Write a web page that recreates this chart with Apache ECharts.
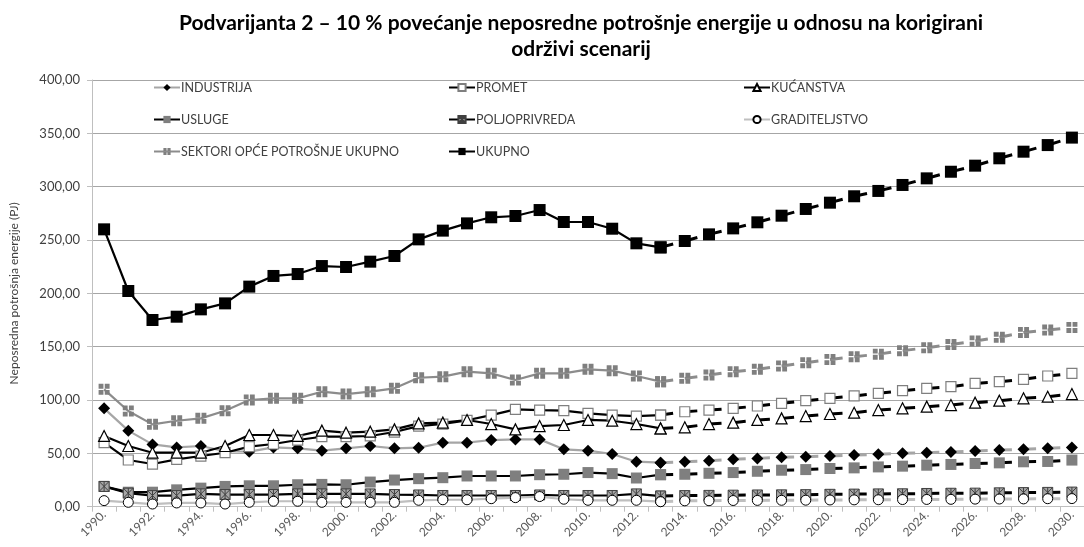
<!DOCTYPE html>
<html>
<head>
<meta charset="utf-8">
<script src="https://cdn.jsdelivr.net/npm/echarts@6/dist/echarts.min.js"></script>
<style>
  html, body { margin: 0; padding: 0; background: #ffffff; }
  #chart { width: 1084px; height: 547px; }
</style>
</head>
<body>
<div id="chart"></div>
<script>
// Years 1990.–2030.; values after 2013. are projections (drawn dashed)
const years = ['1990.','1991.','1992.','1993.','1994.','1995.','1996.','1997.','1998.','1999.',
  '2000.','2001.','2002.','2003.','2004.','2005.','2006.','2007.','2008.','2009.',
  '2010.','2011.','2012.','2013.','2014.','2015.','2016.','2017.','2018.','2019.',
  '2020.','2021.','2022.','2023.','2024.','2025.','2026.','2027.','2028.','2029.','2030.'];
const lastActualYear = '2013.';

// Neposredna potrošnja energije po sektorima (PJ)
const industrija = [92.2, 71.3, 58.4, 55.6, 56.9, 52.0, 51.6, 55.6, 54.7, 52.5, 54.7, 56.9, 54.7,
  55.3, 60.0, 60.0, 62.5, 63.1, 63.1, 53.8, 52.5, 49.4, 42.2, 41.3, 42.2, 43.1,
  44.4, 45.3, 46.3, 46.9, 47.5, 48.4, 49.1, 50.0, 50.6, 51.3, 52.2, 53.1, 53.8, 54.7, 55.6];
const promet = [60.0, 43.8, 40.0, 44.4, 47.5, 50.6, 56.3, 58.8, 62.5, 65.6, 65.6, 66.3, 70.0,
  75.5, 77.5, 81.0, 85.9, 91.3, 90.6, 90.0, 87.5, 85.9, 85.0, 85.9, 89.0, 90.6,
  92.2, 94.4, 96.9, 99.4, 101.6, 103.8, 106.3, 108.8, 110.9, 112.5, 115.6, 117.2, 119.4, 122.5, 125.0];
const kucanstva = [66.3, 56.9, 50.6, 50.6, 50.6, 56.9, 67.2, 67.2, 66.3, 71.3, 69.4, 70.3, 72.5,
  78.1, 78.8, 81.3, 77.5, 72.5, 75.6, 76.6, 81.3, 80.6, 77.5, 73.4, 74.4, 77.5,
  78.8, 81.3, 82.8, 85.0, 86.9, 88.1, 90.6, 92.2, 93.8, 95.3, 97.5, 99.4, 101.6, 103.1, 105.6];
const usluge = [19.0, 13.6, 13.6, 15.8, 17.4, 19.0, 19.6, 19.6, 20.6, 20.9, 20.6, 23.1, 25.0,
  26.3, 27.2, 28.8, 28.8, 28.8, 30.0, 30.4, 32.0, 31.0, 26.9, 30.0, 30.4, 31.3,
  32.0, 33.2, 34.2, 34.8, 35.8, 36.4, 37.3, 38.0, 38.9, 39.6, 40.5, 41.1, 42.1, 42.4, 43.7];
const poljoprivreda = [19.0, 12.7, 10.4, 10.4, 12.0, 11.4, 11.4, 11.4, 12.0, 12.0, 12.0, 12.0, 11.4,
  11.0, 10.5, 10.5, 10.5, 10.5, 11.0, 10.5, 10.5, 10.5, 12.0, 10.0, 10.4, 10.6,
  10.8, 11.0, 11.1, 11.3, 11.6, 11.8, 12.0, 12.1, 12.4, 12.6, 12.7, 13.0, 13.2, 13.4, 13.7];
const graditeljstvo = [5.7, 4.1, 2.5, 3.5, 3.5, 2.5, 4.1, 5.1, 5.1, 4.1, 4.1, 4.1, 4.1,
  6.0, 6.5, 6.5, 7.5, 8.5, 9.5, 7.0, 6.0, 6.0, 6.0, 4.7, 5.5, 5.6,
  5.8, 5.9, 6.0, 6.1, 6.3, 6.4, 6.5, 6.7, 6.8, 6.9, 7.1, 7.2, 7.3, 7.5, 7.6];
const sektoriOpce = [110.0, 89.7, 77.2, 80.6, 82.8, 90.0, 100.0, 101.6, 101.6, 107.8, 105.6, 107.8, 111.0,
  120.9, 121.9, 126.6, 125.0, 118.8, 125.0, 125.0, 128.8, 127.5, 122.5, 117.2, 120.3, 123.4,
  126.6, 128.8, 131.9, 135.0, 138.0, 140.6, 143.0, 146.3, 149.0, 152.0, 155.3, 158.8, 163.4, 165.6, 168.1];
const ukupno = [260.0, 202.2, 175.0, 178.1, 185.0, 190.6, 206.3, 216.3, 218.1, 225.6, 224.7, 229.7, 235.0,
  250.6, 258.8, 265.6, 271.3, 272.5, 278.1, 266.9, 266.9, 260.6, 246.9, 243.1,
  249.1, 255.3, 260.9, 266.6, 272.8, 279.1, 285.0, 291.0, 296.0, 301.6, 307.8, 314.0, 319.7, 326.6, 332.8, 339.0, 346.0];

const yTicks = { min: 0, max: 400, step: 50 };

// Marker shapes
const asteriskPath = 'path://M0,0h10v10h-10zM0,0L10,10M10,0L0,10M5,0L5,10';
const windowPath = 'path://M0,0h4.4v4.4h-4.4zM5.6,0h4.4v4.4h-4.4zM0,5.6h4.4v4.4h-4.4zM5.6,5.6h4.4v4.4h-4.4z';

const sectors = [
  { name: 'INDUSTRIJA', data: industrija, line: '#a6a6a6', symbol: 'diamond', size: 12, fill: '#000000', border: '#000000', bw: 0 },
  { name: 'PROMET', data: promet, line: '#000000', symbol: 'rect', size: 10, fill: '#ffffff', border: '#7f7f7f', bw: 1.2 },
  { name: 'KUĆANSTVA', data: kucanstva, line: '#000000', symbol: 'triangle', size: 11, fill: '#ffffff', border: '#000000', bw: 1.2 },
  { name: 'USLUGE', data: usluge, line: '#000000', symbol: 'rect', size: 11, fill: '#7f7f7f', border: '#7f7f7f', bw: 0 },
  { name: 'POLJOPRIVREDA', data: poljoprivreda, line: '#000000', symbol: asteriskPath, size: 10, fill: '#a6a6a6', border: '#404040', bw: 1 },
  { name: 'GRADITELJSTVO', data: graditeljstvo, line: '#bfbfbf', symbol: 'circle', size: 10, fill: '#ffffff', border: '#000000', bw: 1 },
  { name: 'SEKTORI OPĆE POTROŠNJE UKUPNO', data: sektoriOpce, line: '#8c8c8c', symbol: windowPath, size: 11, fill: '#7f7f7f', border: '#7f7f7f', bw: 0 },
  { name: 'UKUPNO', data: ukupno, line: '#000000', symbol: 'rect', size: 12, fill: '#000000', border: '#000000', bw: 0 }
];

const split = years.indexOf(lastActualYear);
const series = [];
const projIdx = [];
sectors.forEach(function (s) {
  const hist = s.data.map(function (v, i) { return i <= split ? v : '-'; });
  const proj = s.data.map(function (v, i) { return i >= split ? v : '-'; });
  const common = {
    type: 'line',
    name: s.name,
    symbol: s.symbol,
    symbolSize: s.size,
    showAllSymbol: true,
    itemStyle: { color: s.fill, borderColor: s.border, borderWidth: s.bw, opacity: 1 },
    emphasis: { disabled: true },
    animation: false
  };
  series.push(Object.assign({}, common, {
    id: s.name + '-hist',
    data: hist,
    lineStyle: { color: s.line, width: 2.2 }
  }));
  projIdx.push(series.length);
  series.push(Object.assign({}, common, {
    id: s.name + '-proj',
    data: proj,
    lineStyle: { color: s.line, width: 3, type: [12, 12], cap: 'butt' }
  }));
});

const fontFamily = 'Lato, "Liberation Sans", sans-serif';
function legendCol(left, names) {
  return {
    orient: 'vertical',
    left: left,
    top: 75,
    itemWidth: 26,
    itemHeight: 9,
    itemGap: 17,
    data: names,
    selectedMode: false,
    textStyle: { fontFamily: fontFamily, fontSize: 12.5, color: '#404040', lineHeight: 15, padding: [0, 0, 0, -4] }
  };
}

const option = {
  backgroundColor: '#ffffff',
  animation: false,
  title: {
    text: 'Podvarijanta 2 – 10 % povećanje neposredne potrošnje energije u odnosu na korigirani\nodrživi scenarij',
    left: 576,
    textAlign: 'center',
    top: 5,
    textStyle: { fontFamily: fontFamily, fontSize: 21, fontWeight: 'bold', color: '#000000', lineHeight: 26 }
  },
  legend: [
    legendCol(148, ['INDUSTRIJA', 'USLUGE', 'SEKTORI OPĆE POTROŠNJE UKUPNO']),
    legendCol(443, ['PROMET', 'POLJOPRIVREDA', 'UKUPNO']),
    legendCol(738, ['KUĆANSTVA', 'GRADITELJSTVO'])
  ],
  grid: { left: 92, right: -6, top: 80, bottom: 40.3, containLabel: false },
  xAxis: {
    type: 'category',
    data: years,
    boundaryGap: true,
    axisLine: { lineStyle: { color: '#bfbfbf', width: 1 } },
    axisTick: { show: true, interval: 0, length: 5, lineStyle: { color: '#bfbfbf' } },
    axisLabel: { interval: 1, rotate: 45, margin: 6, fontFamily: fontFamily, fontSize: 12, color: '#595959', padding: [0, 0, 0, 0] },
    splitLine: { show: false }
  },
  yAxis: {
    type: 'value',
    min: yTicks.min,
    max: yTicks.max,
    interval: yTicks.step,
    name: 'Neposredna potrošnja energije (PJ)',
    nameLocation: 'middle',
    nameGap: 72,
    nameTextStyle: { fontFamily: fontFamily, fontSize: 12, color: '#404040' },
    axisLine: { show: true, lineStyle: { color: '#bfbfbf', width: 1 } },
    axisTick: { show: true, length: 5, lineStyle: { color: '#bfbfbf' } },
    axisLabel: {
      margin: 12, fontFamily: fontFamily, fontSize: 13, color: '#404040',
      formatter: function (v) { return v.toFixed(2).replace('.', ','); }
    },
    splitLine: { show: true, lineStyle: { color: '#a6a6a6', width: 1 } }
  },
  series: series
};

const chart = echarts.init(document.getElementById('chart'), null, { renderer: 'canvas' });
chart.setOption(option);

// Fit the dash period of each projected line to its own segment length,
// so every dash starts at a marker.
const dashUpdates = projIdx.map(function (si) {
  const vals = sectors[(si - 1) / 2].data;
  let total = 0, n = 0;
  for (let k = split; k < years.length - 1; k++) {
    const p1 = chart.convertToPixel({ seriesIndex: si }, [k, vals[k]]);
    const p2 = chart.convertToPixel({ seriesIndex: si }, [k + 1, vals[k + 1]]);
    total += Math.hypot(p2[0] - p1[0], p2[1] - p1[1]);
    n++;
  }
  const L = total / n;
  return { id: series[si].id, lineStyle: { type: [L * 0.52, L * 0.48], dashOffset: 0 } };
});
chart.setOption({ series: dashUpdates });
</script>
</body>
</html>
